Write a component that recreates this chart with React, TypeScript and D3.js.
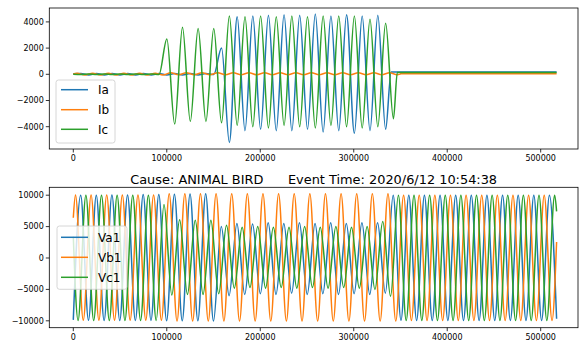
import React from "react";
import * as d3 from "d3";

// ---------- data ----------
const T_END = 517000; // last sample (µs)
const HALF = 8357.5; // half period between successive extrema (µs)

const X_TICKS = [0, 100000, 200000, 300000, 400000, 500000];
const I_TICKS = [-4000, -2000, 0, 2000, 4000];
const V_TICKS = [-10000, -5000, 0, 5000, 10000];

const I_NAMES = ["Ia", "Ib", "Ic"];
const V_NAMES = ["Va1", "Vb1", "Vc1"];
const COLORS = ["#1f77b4", "#ff7f0e", "#2ca02c"];

const TITLE = "Cause: ANIMAL BIRD      Event Time: 2020/6/12 10:54:38";

// Currents: value at t=0, time of first extremum, successive extrema, tail points
const IA_START: [number, number] = [0, 40];
const IA_T0 = 8165;
const IA_VALS = [
  60, -50, 60, -50, 60, -50, 60, -50, 60, -50, 60, -50, 60, -50, 60, -50, 60, -20,
  2000, -5200, 4400, -4300, 4450, -4200, 4500, -4300, 4550, -4300, 4500, -4200,
  4600, -4400, 4450, -4300, 4550, -4500, 4450, -4300, 4500, -4200,
];
const IA_TAIL: [number, number][] = [[340000, 180], [T_END, 180]];

const IB_START: [number, number] = [0, 30];
const IB_T0 = 4000;
const IB_VALS = [
  80, -50, 80, -50, 80, -50, 80, -50, 80, -50, 80, -50,
  120, -30, 120, -30, 120, -30, 120, -30, 120, -30, 120, -30, 120, -30, 120, -30,
  120, -30, 120, -30, 120, -30, 120, -30, 120, -30, 120, -30, 120, -30, 120,
];
const IB_TAIL: [number, number][] = [[350000, 40], [T_END, 40]];

const IC_START: [number, number] = [0, 10];
const IC_T0 = 8167.5;
const IC_VALS = [
  -20, 30, -20, 30, -20, 30, -20, 30, -20, 30, -10,
  2700, -3800, 3600, -3600, 3500, -3600, 3500, -3700, 4450, -3900,
  4400, -4000, 4450, -4100, 4400, -3900, 4450, -4000, 4400, -4100,
  4450, -3900, 4450, -4000, 4450, -4100, 4200, -4000, 3900, -3400,
];
const IC_TAIL: [number, number][] = [[346600, 130], [T_END, 130]];

// Voltages
const VA_START: [number, number] = [0, -9850];
const VA_T0 = 7887;
const VA_VALS = [
  10000, -9900, 10000, -9950, 10050, -9950, 10050, -9950, 10100, -9950, 10100, -10000,
  10150, -10000, 10200, -10000, 10250, -10050,
  5000, -6000, 5500, -5800, 5400, -5700, 5600, -5800, 5500, -5600, 5600, -5800,
  5500, -5700, 5600, -5800, 5500, -5700, 5600, -5800, 5600, -5600,
  10000, -9900, 10000, -9950, 10000, -9950, 10000, -9950, 10000, -9950, 10000, -9950,
  10000, -9950, 10000, -9950, 10000, -9950, 10000, -9950, 10000,
];
const VA_TAIL: [number, number][] = [[T_END, -9670]];

const VB_START: [number, number] = [0, 6400];
const VB_T0 = 2315;
const VB_VALS = [
  10050, -9900, 10050, -9900, 10050, -9900, 10050, -9900, 10050, -9900, 10050, -9900,
  10250, -10050, 10250, -10050, 10250, -10050, 10250, -10050, 10250, -10050,
  10250, -10050, 10250, -10050, 10250, -10050, 10250, -10050, 10250, -10050,
  10250, -10050, 10250, -10050, 10250, -10050, 10250, -10050, 10250, -10050,
  10000, -9950, 10000, -9950, 10000, -9950, 10000, -9950, 10000, -9950,
  10000, -9950, 10000, -9950, 10000, -9950, 10000, -9950, 10000, -9950,
];
const VB_TAIL: [number, number][] = [[T_END, 2550]];

const VC_START: [number, number] = [0, 3400];
const VC_T0 = 5100;
const VC_VALS = [
  -9950, 10000, -9950, 10000, -9950, 10000, -9950, 10000, -9950, 10000, -9950,
  8500,
  -5900, 6100, -5800, 6000, -5800, 6000, -5700,
  5200,
  -4800, 4900, -4700, 5000, -4800, 4900, -4700, 4900, -4800, 5000, -4700, 4900,
  -4800, 5000, -4700, 4900, -4800, 5000, -5000,
  5800,
  -6100,
  10000, -9950, 10000, -9950, 10000, -9950, 10000, -9950, 10000, -9950,
  10000, -9950, 10000, -9950, 10000, -9950, 10000, -9950, 10000, -9950, 10000,
];
const VC_TAIL: [number, number][] = [[T_END, 7430]];

// ---------- layout ----------
const W = 579;
const H = 344;
const PL = 49.3;
const PR = 578;
const TOP1 = 8;
const BOT1 = 149;
const TOP2 = 187.3;
const BOT2 = 327.7;
const FONT = "'DejaVu Sans', Verdana, sans-serif";

type Pt = [number, number];

function buildPoints(start: Pt, t0: number, vals: number[], tail: Pt[]): Pt[] {
  const pts: Pt[] = [start];
  vals.forEach((v, i) => pts.push([t0 + i * HALF, v]));
  tail.forEach((p) => pts.push(p));
  return pts;
}

const xScale = d3.scaleLinear().domain([-25674, 539900]).range([PL, PR]);
const yTop = d3.scaleLinear().domain([-5702, 5061]).range([BOT1, TOP1]);
const yBot = d3.scaleLinear().domain([-11099, 11258]).range([BOT2, TOP2]);

const fmt = (v: number) => (v < 0 ? "\u2212" + Math.abs(v) : String(v));

function Panel(props: {
  y: d3.ScaleLinear<number, number>;
  top: number;
  bottom: number;
  yTicks: number[];
  series: Pt[][];
  names: string[];
  legend: { x: number; y: number; w: number; h: number; rows: number[]; tx: number };
}) {
  const { y, top, bottom, yTicks, series, names, legend } = props;
  const line = d3
    .line<Pt>()
    .x((d) => xScale(d[0]))
    .y((d) => y(d[1]))
    .curve(d3.curveMonotoneX);
  return (
    <g>
      {series.map((pts, i) => (
        <path key={i} d={line(pts) || ""} fill="none" stroke={COLORS[i]} strokeWidth={1.5} strokeLinejoin="round" />
      ))}
      <rect x={PL} y={top} width={PR - PL} height={bottom - top} fill="none" stroke="#000" strokeWidth={0.8} />
      {yTicks.map((t) => (
        <g key={"y" + t}>
          <line x1={PL - 3.5} x2={PL} y1={y(t)} y2={y(t)} stroke="#000" strokeWidth={0.8} />
          <text x={PL - 5.5} y={y(t)} dy="0.35em" textAnchor="end" fontSize={8} fontFamily={FONT} fill="#000">
            {fmt(t)}
          </text>
        </g>
      ))}
      {X_TICKS.map((t) => (
        <g key={"x" + t}>
          <line x1={xScale(t)} x2={xScale(t)} y1={bottom} y2={bottom + 3.5} stroke="#000" strokeWidth={0.8} />
          <text x={xScale(t)} y={bottom + 11.8} textAnchor="middle" fontSize={8} fontFamily={FONT} fill="#000">
            {fmt(t)}
          </text>
        </g>
      ))}
      <rect
        x={legend.x}
        y={legend.y}
        width={legend.w}
        height={legend.h}
        rx={2.5}
        fill="#fff"
        fillOpacity={0.8}
        stroke="#cccccc"
        strokeWidth={0.8}
      />
      {names.map((n, i) => (
        <g key={n}>
          <line x1={61} x2={88} y1={legend.rows[i]} y2={legend.rows[i]} stroke={COLORS[i]} strokeWidth={1.5} />
          <text x={legend.tx} y={legend.rows[i]} dy="0.36em" fontSize={12} fontFamily={FONT} fill="#000">
            {n}
          </text>
        </g>
      ))}
    </g>
  );
}

export default function App() {
  const currents = [
    buildPoints(IA_START, IA_T0, IA_VALS, IA_TAIL),
    buildPoints(IB_START, IB_T0, IB_VALS, IB_TAIL),
    buildPoints(IC_START, IC_T0, IC_VALS, IC_TAIL),
  ];
  const voltages = [
    buildPoints(VA_START, VA_T0, VA_VALS, VA_TAIL),
    buildPoints(VB_START, VB_T0, VB_VALS, VB_TAIL),
    buildPoints(VC_START, VC_T0, VC_VALS, VC_TAIL),
  ];
  return (
    <svg
      width={W}
      height={H}
      viewBox={`0 0 ${W} ${H}`}
      style={{ position: "absolute", left: 0, top: 0, background: "#fff" }}
    >
      <rect x={0} y={0} width={W} height={H} fill="#fff" />
      <Panel
        y={yTop}
        top={TOP1}
        bottom={BOT1}
        yTicks={I_TICKS}
        series={currents}
        names={I_NAMES}
        legend={{ x: 56, y: 80, w: 59, h: 63, rows: [89.7, 109.7, 129.3], tx: 98 }}
      />
      <text
        x={(PL + PR) / 2}
        y={183.5}
        textAnchor="middle"
        fontSize={12.9}
        fontFamily={FONT}
        fill="#000"
        style={{ whiteSpace: "pre" }}
        xmlSpace="preserve"
      >
        {TITLE}
      </text>
      <Panel
        y={yBot}
        top={TOP2}
        bottom={BOT2}
        yTicks={V_TICKS}
        series={voltages}
        names={V_NAMES}
        legend={{ x: 57, y: 226, w: 70, h: 63.3, rows: [237.3, 257.3, 277.3], tx: 98 }}
      />
    </svg>
  );
}
